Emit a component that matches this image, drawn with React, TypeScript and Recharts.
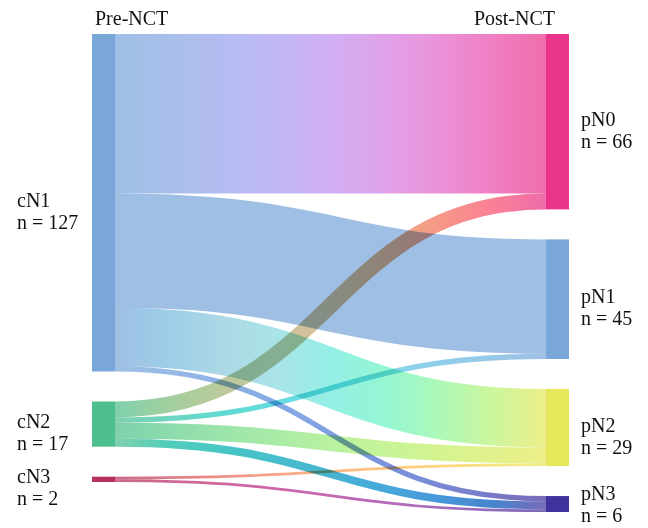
import React from 'react';
import { Sankey } from 'recharts';

// ---- data ----
const nodeNames = ['cN1', 'cN2', 'cN3', 'pN0', 'pN1', 'pN2', 'pN3'];
const nodeCounts = [127, 17, 2, 66, 45, 29, 6];
const linkSources = [0, 0, 0, 0, 1, 1, 1, 1, 2, 2];
const linkTargets = [3, 4, 5, 6, 3, 4, 5, 6, 5, 6];
const linkValues = [60, 43, 22, 2, 6, 2, 6, 3, 1, 1];
const stageLabels = ['Pre-NCT', 'Post-NCT'];

// ---- styles ----
const nodeColors: Record<string, string> = {
  cN1: '#79a7d9',
  cN2: '#4dbf8e',
  cN3: '#b5305a',
  pN0: '#e9348a',
  pN1: '#79a7d9',
  pN2: '#e5e85a',
  pN3: '#41339e',
};
const FONT = '"Liberation Serif", "Times New Roman", serif';

const data = {
  nodes: nodeNames.map((name) => ({ name })),
  links: linkValues.map((value, i) => ({ source: linkSources[i], target: linkTargets[i], value })),
};

// ---- colour interpolation helpers (Lab / HCL) ----
const toLin = (c: number) => (c <= 0.04045 ? c / 12.92 : Math.pow((c + 0.055) / 1.055, 2.4));
const toSrgb = (c: number) => (c <= 0.0031308 ? 12.92 * c : 1.055 * Math.pow(c, 1 / 2.4) - 0.055);
const Xn = 0.95047, Yn = 1, Zn = 1.08883;
const f = (t: number) => (t > 0.008856 ? Math.cbrt(t) : 7.787 * t + 16 / 116);
const finv = (t: number) => (t > 0.206893 ? t * t * t : (t - 16 / 116) / 7.787);

function hexToLab(hex: string): [number, number, number] {
  const r = toLin(parseInt(hex.slice(1, 3), 16) / 255);
  const g = toLin(parseInt(hex.slice(3, 5), 16) / 255);
  const b = toLin(parseInt(hex.slice(5, 7), 16) / 255);
  const X = 0.4124 * r + 0.3576 * g + 0.1805 * b;
  const Y = 0.2126 * r + 0.7152 * g + 0.0722 * b;
  const Z = 0.0193 * r + 0.1192 * g + 0.9505 * b;
  const fx = f(X / Xn), fy = f(Y / Yn), fz = f(Z / Zn);
  return [116 * fy - 16, 500 * (fx - fy), 200 * (fy - fz)];
}

function labToRgb(L: number, A: number, B: number) {
  const fy = (L + 16) / 116;
  const fx = fy + A / 500;
  const fz = fy - B / 200;
  const X = Xn * finv(fx), Y = Yn * finv(fy), Z = Zn * finv(fz);
  const r = 3.2406 * X - 1.5372 * Y - 0.4986 * Z;
  const g = -0.9689 * X + 1.8758 * Y + 0.0415 * Z;
  const b = 0.0557 * X - 0.204 * Y + 1.057 * Z;
  const cl = (v: number) => Math.round(Math.min(1, Math.max(0, toSrgb(Math.min(1, Math.max(0, v))))) * 255);
  return `rgb(${cl(r)},${cl(g)},${cl(b)})`;
}

function gradientStops(c1: string, c2: string, n = 8) {
  const [L1, a1, b1] = hexToLab(c1);
  const [L2, a2, b2] = hexToLab(c2);
  const C1 = Math.hypot(a1, b1), C2 = Math.hypot(a2, b2);
  const h1 = Math.atan2(b1, a1), h2 = Math.atan2(b2, a2);
  let dh = h2 - h1;
  if (dh > Math.PI) dh -= 2 * Math.PI;
  if (dh < -Math.PI) dh += 2 * Math.PI;
  const strength = Math.min(1, Math.abs(dh) / (Math.PI / 3));
  const out: { offset: number; color: string }[] = [];
  for (let i = 0; i <= n; i++) {
    const t = i / n;
    const bump = Math.sin(Math.PI * t) * strength;
    const L = L1 + (L2 - L1) * t + 7 * bump;
    const cPolar = C1 + (C2 - C1) * t;
    const cLine = Math.hypot(a1 + (a2 - a1) * t, b1 + (b2 - b1) * t);
    const C = Math.sqrt(cPolar * cLine) * (1 + 0.2 * bump);
    const h = h1 + dh * t;
    out.push({ offset: t, color: labToRgb(L, C * Math.cos(h), C * Math.sin(h)) });
  }
  return out;
}

const renderLink = (props: any) => {
  const { sourceX, targetX, sourceY, targetY, sourceControlX, targetControlX, linkWidth, index, payload } = props;
  const sName = payload?.source?.name;
  const tName = payload?.target?.name;
  const stops = gradientStops(nodeColors[sName] || '#999999', nodeColors[tName] || '#999999');
  const id = `lg-${index}`;
  return (
    <g key={id}>
      <defs>
        <linearGradient id={id} gradientUnits="userSpaceOnUse" x1={sourceX} x2={targetX} y1={0} y2={0}>
          {stops.map((s, i) => (
            <stop key={i} offset={s.offset} stopColor={s.color} />
          ))}
        </linearGradient>
      </defs>
      <path
        d={`M${sourceX},${sourceY} C${sourceControlX},${sourceY} ${targetControlX},${targetY} ${targetX},${targetY}`}
        fill="none"
        stroke={`url(#${id})`}
        strokeWidth={Math.max(linkWidth, 1)}
        strokeOpacity={0.72}
        style={{ mixBlendMode: 'multiply' }}
      />
    </g>
  );
};

const renderNode = (props: any) => {
  const { x, y, width, height, index, payload } = props;
  const name = payload?.name;
  const idx = nodeNames.indexOf(name);
  const count = nodeCounts[idx];
  const isLeft = (payload?.depth ?? 0) === 0;
  const cy = y + height / 2;
  const tx = isLeft ? 17 : x + width + 12;
  const line2 = Math.min(cy + 26, 522);
  const line1 = line2 - 22;
  const textStyle = { fontFamily: FONT, fontSize: 20 };
  return (
    <g key={`node-${index}`}>
      <rect x={x} y={y} width={width} height={Math.max(height, 1)} fill={nodeColors[name]} />
      <text x={tx} y={line1} textAnchor="start" style={textStyle} fill="#111">
        {name}
      </text>
      <text x={tx} y={line2} textAnchor="start" style={textStyle} fill="#111">
        {`n = ${count}`}
      </text>
    </g>
  );
};

export default function App() {
  return (
    <div style={{ position: 'absolute', left: 0, top: 0, width: 648, height: 528, background: '#fff' }}>
      <Sankey
        width={648}
        height={528}
        data={data}
        margin={{ top: 34, right: 79, bottom: 16, left: 92 }}
        nodeWidth={23}
        nodePadding={30}
        iterations={0}
        link={renderLink}
        node={renderNode}
      />
      <svg width={648} height={528} style={{ position: 'absolute', left: 0, top: 0, pointerEvents: 'none' }}>
        <text x={95} y={25} textAnchor="start" style={{ fontFamily: FONT, fontSize: 20 }} fill="#111">
          {stageLabels[0]}
        </text>
        <text x={555} y={25} textAnchor="end" style={{ fontFamily: FONT, fontSize: 20 }} fill="#111">
          {stageLabels[1]}
        </text>
      </svg>
    </div>
  );
}
